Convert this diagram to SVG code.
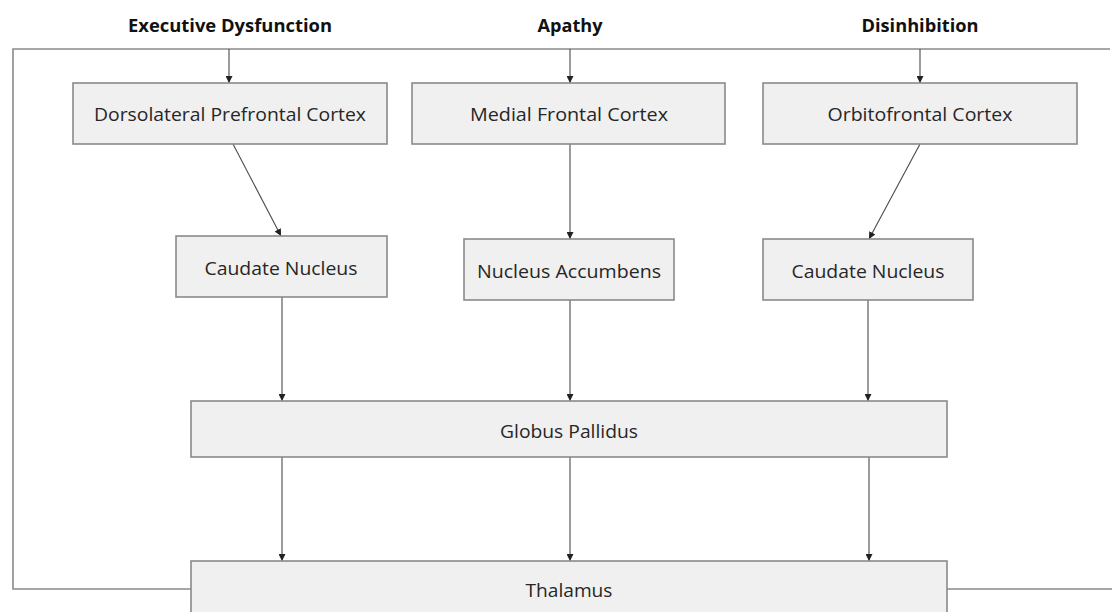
<svg xmlns="http://www.w3.org/2000/svg" width="1112" height="612" viewBox="0 0 1112 612">
<style>
.box{fill:#f0f0f0;stroke:#8a8a8a;stroke-width:1.6}
.lbl{font-family:"Open Sans","Liberation Sans",sans-serif;font-size:18.5px;fill:#262626;text-anchor:middle}
.ttl{font-family:"Open Sans","Liberation Sans",sans-serif;font-size:18.5px;font-weight:bold;fill:#111;text-anchor:middle}
.frame{fill:none;stroke:#8a8a8a;stroke-width:1.6}
.arr{fill:none;stroke:#4a4a4a;stroke-width:1.1;marker-end:url(#ah)}
</style>
<defs>
<marker id="ah" viewBox="0 0 10 10" refX="10" refY="5" markerWidth="7" markerHeight="7" markerUnits="userSpaceOnUse" orient="auto">
<path d="M0,0 L10,5 L0,10 Z" fill="#222"/>
</marker>
</defs>
<rect width="1112" height="612" fill="#fff"/>
<g id="titles">
<text class="ttl" x="230" y="32" textLength="204" lengthAdjust="spacingAndGlyphs">Executive Dysfunction</text>
<text class="ttl" x="570" y="32" textLength="65" lengthAdjust="spacingAndGlyphs">Apathy</text>
<text class="ttl" x="920" y="32" textLength="117" lengthAdjust="spacingAndGlyphs">Disinhibition</text>
</g>
<g id="connectors">
<polyline class="frame" points="191,589 13,589 13,49 1110,49"/>
<line class="frame" x1="947" y1="589" x2="1112" y2="589"/>
<line class="arr" x1="229" y1="49" x2="229" y2="83"/>
<line class="arr" x1="570" y1="49" x2="570" y2="83"/>
<line class="arr" x1="920" y1="49" x2="920" y2="83"/>
<line class="arr" x1="233" y1="144" x2="281" y2="236"/>
<line class="arr" x1="570" y1="144" x2="570" y2="239"/>
<line class="arr" x1="920" y1="144" x2="869" y2="239"/>
<line class="arr" x1="282" y1="297" x2="282" y2="401"/>
<line class="arr" x1="570" y1="300" x2="570" y2="401"/>
<line class="arr" x1="868" y1="300" x2="868" y2="401"/>
<line class="arr" x1="282" y1="457" x2="282" y2="561"/>
<line class="arr" x1="570" y1="457" x2="570" y2="561"/>
<line class="arr" x1="869" y1="457" x2="869" y2="561"/>
</g>
<g id="dlpfc">
<rect class="box" x="73" y="83" width="314" height="61"/>
<text class="lbl" x="230" y="121" textLength="272" lengthAdjust="spacingAndGlyphs">Dorsolateral Prefrontal Cortex</text>
</g>
<g id="mfc">
<rect class="box" x="412" y="83" width="313" height="61"/>
<text class="lbl" x="569" y="121" textLength="198" lengthAdjust="spacingAndGlyphs">Medial Frontal Cortex</text>
</g>
<g id="ofc">
<rect class="box" x="763" y="83" width="314" height="61"/>
<text class="lbl" x="920" y="121" textLength="185" lengthAdjust="spacingAndGlyphs">Orbitofrontal Cortex</text>
</g>
<g id="caudate1">
<rect class="box" x="176" y="236" width="211" height="61"/>
<text class="lbl" x="281" y="275" textLength="153" lengthAdjust="spacingAndGlyphs">Caudate Nucleus</text>
</g>
<g id="accumbens">
<rect class="box" x="464" y="239" width="210" height="61"/>
<text class="lbl" x="569" y="278" textLength="184" lengthAdjust="spacingAndGlyphs">Nucleus Accumbens</text>
</g>
<g id="caudate2">
<rect class="box" x="763" y="239" width="210" height="61"/>
<text class="lbl" x="868" y="278" textLength="153" lengthAdjust="spacingAndGlyphs">Caudate Nucleus</text>
</g>
<g id="globus">
<rect class="box" x="191" y="401" width="756" height="56"/>
<text class="lbl" x="569" y="438" textLength="138" lengthAdjust="spacingAndGlyphs">Globus Pallidus</text>
</g>
<g id="thalamus">
<rect class="box" x="191" y="561" width="756" height="60"/>
<text class="lbl" x="569" y="597" textLength="87" lengthAdjust="spacingAndGlyphs">Thalamus</text>
</g>
</svg>
